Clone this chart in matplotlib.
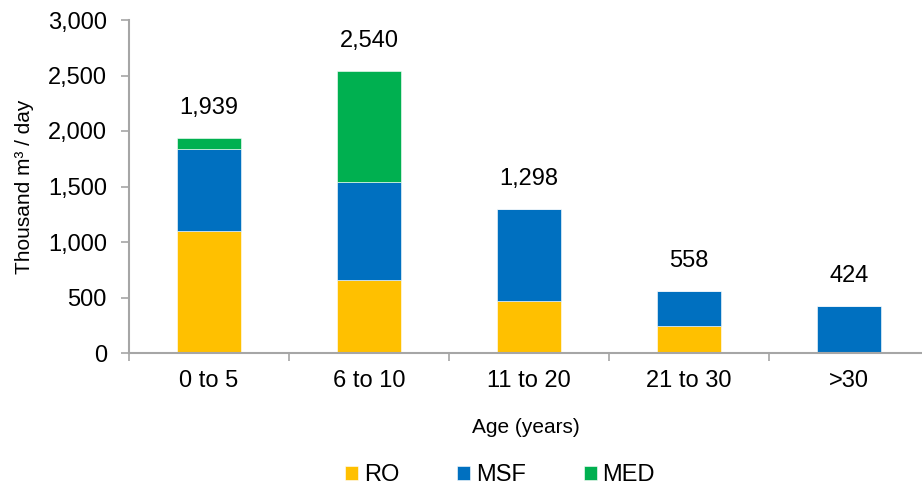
import matplotlib
matplotlib.use("Agg")
import matplotlib.pyplot as plt
from matplotlib.ticker import FuncFormatter, FixedLocator
import numpy as np

plt.rcParams['font.family'] = ['Liberation Sans', 'DejaVu Sans']

categories = ["0 to 5", "6 to 10", "11 to 20", "21 to 30", ">30"]
ro = [1100, 660, 470, 245, 0]
msf = [739, 885, 828, 313, 424]
med = [100, 995, 0, 0, 0]
totals = [1939, 2540, 1298, 558, 424]

colors = {"RO": "#FFC000", "MSF": "#0070C0", "MED": "#00B050"}
axis_grey = "#A6A6A6"

fig = plt.figure(figsize=(9.22, 4.87), dpi=100)
ax = fig.add_axes([129 / 922, 1 - 353 / 487, 1 - 129 / 922, (353 - 20) / 487])

x = np.arange(len(categories))
w = 0.4
ro_a, msf_a, med_a = np.array(ro), np.array(msf), np.array(med)
ax.bar(x, ro_a, w, color=colors["RO"], label="RO", edgecolor="white", linewidth=0.4)
ax.bar(x, msf_a, w, bottom=ro_a, color=colors["MSF"], label="MSF", edgecolor="white", linewidth=0.4)
ax.bar(x, med_a, w, bottom=ro_a + msf_a, color=colors["MED"], label="MED", edgecolor="white", linewidth=0.4)

for xi, t in zip(x, totals):
    ax.annotate(f"{t:,}", (xi, t), xytext=(0, 19), textcoords="offset pixels",
                ha="center", va="bottom", fontsize=17, color="black")

ax.set_ylim(0, 3000)
ax.set_xlim(-0.5, -0.5 + (922 - 129) / 160)
ax.set_yticks(np.arange(0, 3001, 500))
ax.yaxis.set_major_formatter(FuncFormatter(lambda v, p: f"{int(v):,}"))

ax.set_xticks(x)
ax.set_xticklabels(categories)
ax.xaxis.set_minor_locator(FixedLocator(np.arange(-0.5, 5, 1.0)))
ax.tick_params(axis="x", which="major", length=0, labelsize=17, pad=12)
ax.tick_params(axis="x", which="minor", length=6, width=1.2, color=axis_grey)
ax.tick_params(axis="y", length=6, width=1.2, color=axis_grey, labelsize=17, pad=10)

for s in ("top", "right"):
    ax.spines[s].set_visible(False)
for s in ("left", "bottom"):
    ax.spines[s].set_color(axis_grey)
    ax.spines[s].set_linewidth(1.5)

ax.set_xlabel("Age (years)", fontsize=15, labelpad=19)
ax.set_ylabel("Thousand m³ / day", fontsize=15, labelpad=10)

handles, labels = ax.get_legend_handles_labels()
fig.legend(handles, labels, loc="center", bbox_to_anchor=(500 / 922, 1 - 475 / 487),
           ncol=3, frameon=False, fontsize=17, handlelength=0.55, handleheight=0.55,
           handletextpad=0.25, columnspacing=2.45, borderaxespad=0, borderpad=0)

fig.savefig("out.png", dpi=100)
